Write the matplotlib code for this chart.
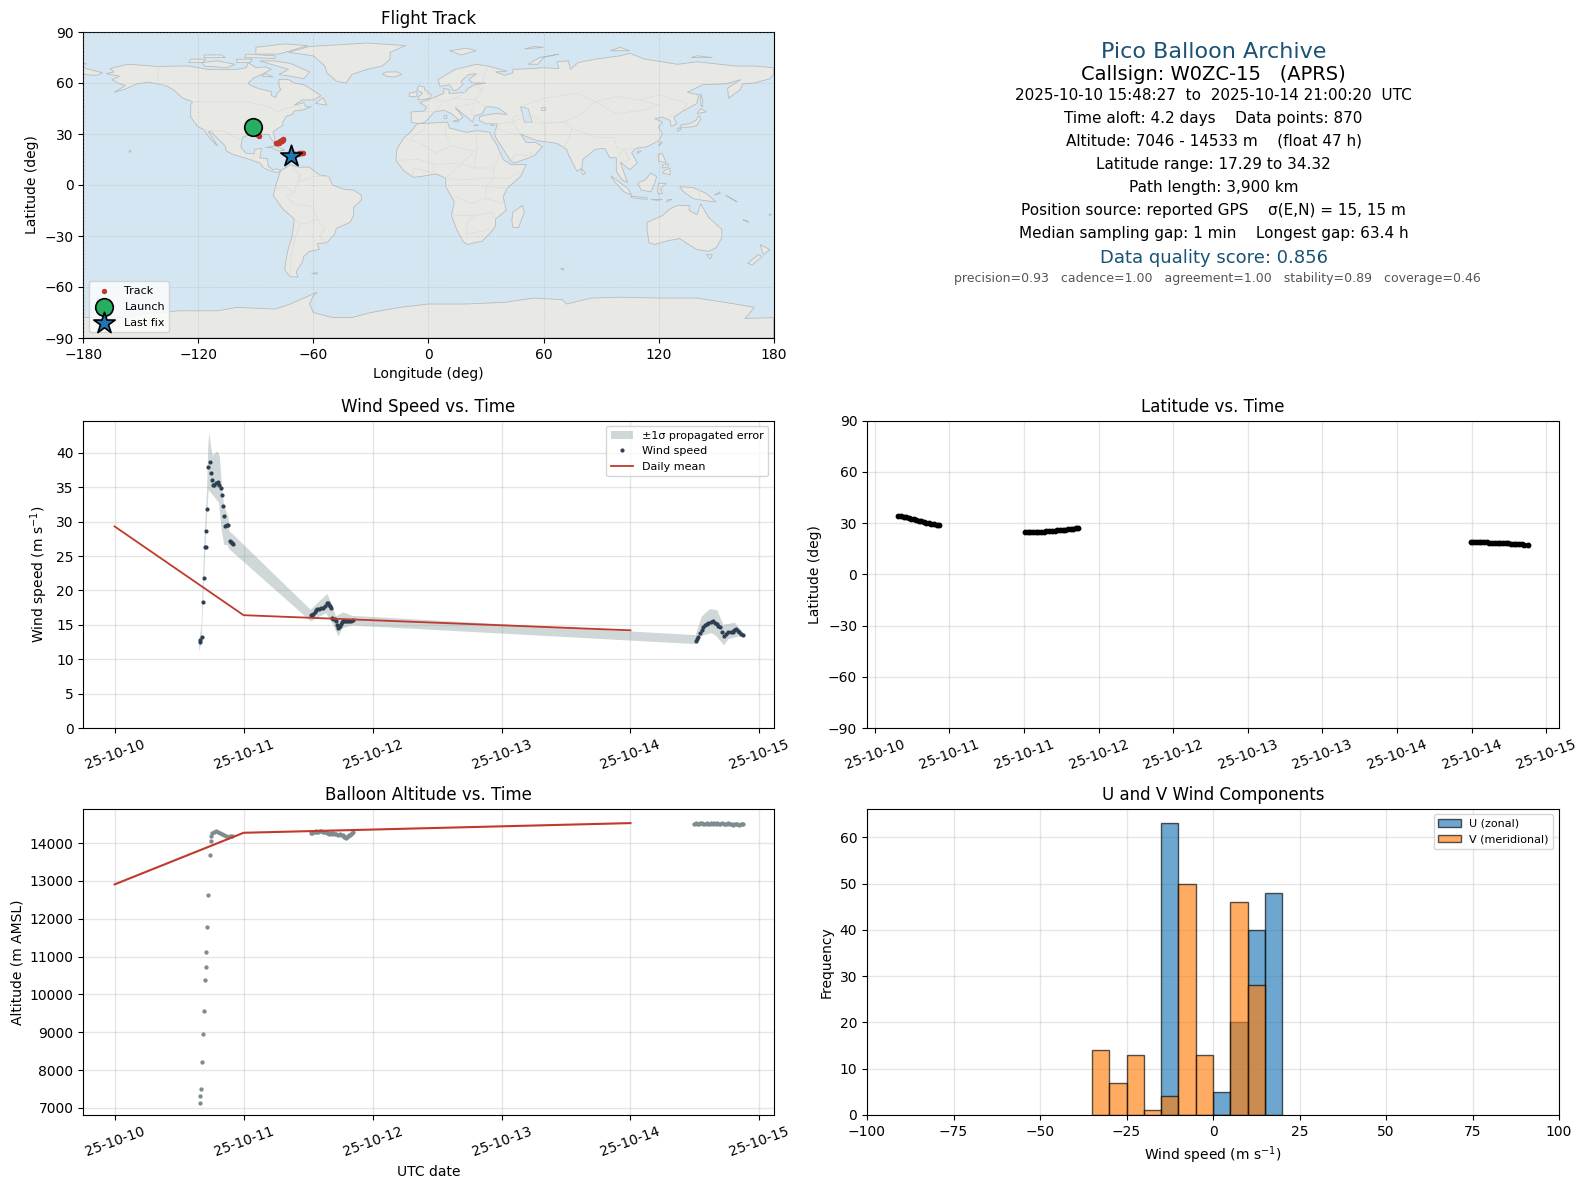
import datetime as dt

import numpy as np
import matplotlib
matplotlib.use("Agg")
import matplotlib.pyplot as plt
import matplotlib.dates as mdates
from matplotlib.patches import Polygon

# days since 2025-10-10 00:00 UTC
wind_t = [0.659, 0.664, 0.674, 0.682, 0.690, 0.700, 0.705, 0.708, 0.713, 0.721, 0.736, 0.744, 0.752, 0.762,
          0.770, 0.786, 0.800, 0.809, 0.822, 0.829, 0.837, 0.845, 0.858, 0.868, 0.881, 0.897, 0.902, 0.907, 0.915,
          1.519, 1.530, 1.540, 1.550, 1.560, 1.573, 1.587, 1.603, 1.618, 1.630, 1.643, 1.652, 1.659, 1.667, 1.674,
          1.685, 1.695, 1.705, 1.716, 1.722, 1.729, 1.742, 1.750, 1.757, 1.765, 1.773, 1.783, 1.793, 1.806, 1.819,
          1.832, 1.845,
          4.506, 4.516, 4.527, 4.540, 4.553, 4.566, 4.579, 4.592, 4.605, 4.621, 4.638, 4.653, 4.669, 4.682, 4.695,
          4.710, 4.726, 4.743, 4.760, 4.776, 4.793, 4.806, 4.819, 4.832, 4.845, 4.860, 4.876]
wind_v = [12.5, 12.8, 13.3, 18.3, 21.8, 26.3, 26.3, 28.7, 31.9, 38.0, 38.7, 37.1, 36.1, 35.3,
          35.3, 35.6, 35.7, 35.3, 34.9, 33.9, 32.3, 30.8, 29.3, 29.5, 29.5, 27.2, 27.0, 26.9, 26.7,
          16.4, 16.4, 16.5, 16.9, 17.2, 17.3, 17.3, 17.4, 17.5, 17.8, 18.1, 18.1, 17.9, 17.7, 17.4,
          16.0, 15.9, 15.9, 15.5, 15.0, 14.5, 14.7, 14.9, 15.1, 15.4, 15.6, 15.5, 15.5, 15.5, 15.5,
          15.6, 15.7,
          12.7, 13.0, 13.3, 13.8, 14.3, 14.7, 15.0, 15.1, 15.2, 15.4, 15.5, 15.3, 15.1, 14.9, 14.7,
          14.0, 13.4, 13.6, 13.9, 13.9, 14.0, 14.2, 14.4, 14.1, 13.9, 13.7, 13.5]

band_up_t = [0.656, 0.660, 0.674, 0.682, 0.690, 0.700, 0.716, 0.726, 0.734, 0.747, 0.760, 0.798, 0.816, 0.832, 0.850,
             0.883, 0.889, 0.915,
             1.520, 1.570, 1.651, 1.690, 1.716, 1.773, 1.845, 4.506, 4.553, 4.618, 4.674, 4.721, 4.810, 4.876]
band_up = [13.0, 13.2, 14.8, 20.0, 24.0, 28.6, 34.4, 40.9, 43.0, 41.0, 39.6, 40.2, 39.5, 35.1, 32.2,
           30.7, 28.6, 28.2,
           17.2, 18.1, 19.5, 17.7, 16.2, 16.8, 16.3, 13.5, 16.2, 17.3, 17.1, 15.0, 15.3, 13.8]
band_lo_t = [0.656, 0.674, 0.682, 0.690, 0.700, 0.716, 0.729, 0.760, 0.810, 0.830, 0.850, 0.876, 0.889,
             1.522, 1.640, 1.690, 1.736, 1.767, 1.845, 4.500, 4.540, 4.630, 4.669, 4.726, 4.760, 4.837, 4.876]
band_lo = [11.1, 12.5, 16.5, 20.0, 24.4, 30.7, 34.6, 33.9, 32.7, 28.8, 26.6, 26.6, 26.0,
           15.5, 16.7, 15.2, 13.3, 14.5, 14.9, 12.2, 13.3, 13.8, 13.3, 12.0, 12.9, 13.3, 13.2]

mean_t = [0, 1, 4]
mean_wind = [29.3, 16.4, 14.2]
mean_alt = [12910, 14274, 14530]

alt_t = [0.659, 0.659, 0.667, 0.674, 0.682, 0.690, 0.698, 0.705, 0.705, 0.713, 0.721, 0.736, 0.744, 0.744, 0.752,
         0.767, 0.786, 0.800, 0.816, 0.832, 0.847, 0.863, 0.878, 0.894, 0.910,
         1.519, 1.530, 1.540, 1.550, 1.560, 1.570, 1.580, 1.590, 1.600, 1.612, 1.624, 1.636, 1.648, 1.660, 1.672,
         1.684, 1.696, 1.708, 1.720, 1.732, 1.744, 1.756, 1.768, 1.775, 1.783, 1.791, 1.799, 1.807, 1.815, 1.823,
         1.831, 1.839, 1.845,
         4.494, 4.506, 4.518, 4.530, 4.542, 4.554, 4.566, 4.578, 4.590, 4.602, 4.614, 4.626, 4.638, 4.650, 4.662,
         4.674, 4.686, 4.698, 4.710, 4.722, 4.734, 4.746, 4.758, 4.770, 4.782, 4.794, 4.806, 4.818, 4.830, 4.842,
         4.854, 4.866, 4.876]
alt_v = [7130, 7316, 7500, 8218, 8960, 9570, 10393, 10737, 11135, 11772, 12620, 13682, 14053, 14186, 14265,
         14292, 14310, 14292, 14265, 14239, 14212, 14186, 14168, 14186, 14195,
         14256, 14270, 14285, 14300, 14310, 14295, 14285, 14320, 14327, 14305, 14295, 14285, 14270, 14255, 14265,
         14250, 14260, 14240, 14245, 14225, 14235, 14225, 14210, 14170, 14150, 14133, 14160, 14190, 14220, 14210,
         14240, 14260, 14290,
         14510, 14525, 14515, 14505, 14520, 14530, 14510, 14500, 14525, 14515, 14505, 14530, 14510, 14520, 14500,
         14525, 14510, 14505, 14520, 14495, 14515, 14505, 14520, 14500, 14510, 14490, 14515, 14500, 14510, 14490,
         14505, 14495, 14500]

lat_t = [0.658, 0.675, 0.692, 0.709, 0.726, 0.743, 0.760, 0.777, 0.794, 0.811, 0.828, 0.845, 0.862, 0.879, 0.896,
         0.913, 0.930,
         1.506, 1.524, 1.542, 1.560, 1.578, 1.596, 1.614, 1.632, 1.650, 1.668, 1.686, 1.704, 1.722, 1.740, 1.758,
         1.776, 1.794, 1.812, 1.830, 1.848, 1.859,
         4.494, 4.512, 4.530, 4.548, 4.566, 4.584, 4.602, 4.620, 4.638, 4.656, 4.674, 4.692, 4.710, 4.728, 4.746,
         4.764, 4.782, 4.800, 4.818, 4.836, 4.854, 4.875]
lat_v = [34.3, 34.2, 33.8, 33.4, 33.0, 32.6, 32.2, 31.8, 31.4, 31.0, 30.6, 30.2, 29.9, 29.6, 29.3,
         29.1, 28.8,
         24.5, 24.5, 24.6, 24.7, 24.7, 24.8, 24.9, 25.0, 25.2, 25.3, 25.4, 25.6, 25.7, 25.8, 26.0,
         26.1, 26.3, 26.5, 26.6, 26.8, 27.0,
         19.0, 19.0, 18.9, 18.8, 18.7, 18.7, 18.6, 18.5, 18.5, 18.4, 18.4, 18.3, 18.2, 18.2, 18.1,
         18.0, 17.9, 17.8, 17.7, 17.6, 17.4, 17.3]
track_lon = [-91.6, -91.4, -91.2, -91.0, -90.8, -90.6, -90.4, -90.2, -90.0, -89.8, -89.6, -89.4, -89.2, -89.0, -88.8,
             -88.5, -88.3,
             -79.6, -79.4, -79.2, -79.0, -78.8, -78.6, -78.4, -78.2, -78.0, -77.8, -77.6, -77.4, -77.2, -77.0, -76.8,
             -76.6, -76.4, -76.2, -76.0, -75.8, -75.6,
             -65.5, -65.8, -66.2, -66.5, -66.9, -67.2, -67.6, -67.9, -68.2, -68.6, -68.9, -69.2, -69.5, -69.8, -70.1,
             -70.4, -70.7, -71.0, -71.2, -71.4, -71.5, -71.6]

u_edges = [-15, -10, -5, 0, 5, 10, 15, 20]
u_counts = [63, 0, 0, 5, 20, 40, 48]
v_edges = [-35, -30, -25, -20, -15, -10, -5, 0, 5, 10, 15]
v_counts = [14, 7, 13, 1, 4, 50, 13, 0, 46, 28]

info_lines = ["2025-10-10 15:48:27  to  2025-10-14 21:00:20  UTC",
              "Time aloft: 4.2 days    Data points: 870",
              "Altitude: 7046 - 14533 m    (float 47 h)",
              "Latitude range: 17.29 to 34.32",
              "Path length: 3,900 km",
              "Position source: reported GPS    \u03c3(E,N) = 15, 15 m",
              "Median sampling gap: 1 min    Longest gap: 63.4 h"]

# rough world outline, lon/lat
north_america = [(-168, 65.5), (-164, 66.5), (-166, 68.5), (-157, 71), (-150, 70.5), (-141, 69.7), (-130, 70), (-125, 70),
                 (-115, 68), (-108, 68), (-100, 68), (-95, 69), (-94, 72), (-90, 69), (-85, 69.5), (-82, 68), (-87, 65),
                 (-91, 63), (-94, 60), (-93, 58.7), (-88, 56.5), (-82, 55), (-82, 52.5), (-79.5, 51.5), (-79, 54), (-77, 56),
                 (-78, 58.5), (-78, 62), (-73, 62), (-70, 60), (-65, 59), (-62, 57), (-56, 52.5), (-60, 50), (-66, 50),
                 (-70, 47), (-65, 48.5), (-64, 46), (-61, 46), (-66, 44), (-70, 43.5), (-71, 41.5), (-74, 40.5), (-76, 37),
                 (-76, 35), (-81, 31.5), (-80, 27), (-80.5, 25), (-82, 27), (-83, 29.5), (-85, 29.7), (-89, 30), (-90, 29),
                 (-94, 29.5), (-97, 28), (-97.5, 25), (-97.8, 22), (-95, 18.5), (-91, 18.5), (-90.5, 21), (-87, 21.5),
                 (-88, 16), (-84, 15.5), (-83.5, 11), (-81, 9), (-79, 9.5), (-77, 8.5), (-78, 7.5), (-80, 7.5), (-83, 8.5),
                 (-86, 10), (-88, 13), (-92, 14.5), (-96, 16), (-102, 18), (-105.5, 20), (-106, 23), (-110, 27.5), (-113, 31),
                 (-114.8, 31.5), (-112, 26.5), (-110, 23), (-112, 25), (-115, 29), (-117, 32.5), (-120.5, 34.5), (-124, 40),
                 (-124, 47), (-123, 49), (-128, 51), (-133, 56), (-137, 58.5), (-146, 60.5), (-152, 59.5), (-158, 56.5),
                 (-164, 54.5), (-158, 58.5), (-162, 60), (-165, 62), (-161, 64)]
south_america = [(-77, 8.5), (-72, 12), (-68, 10.5), (-62, 10.5), (-57, 6), (-52, 5), (-50, 0), (-44, -2.5), (-39, -3),
                 (-35, -6), (-35, -9), (-39, -13), (-39, -18), (-41, -22), (-48, -25.5), (-49, -29), (-53, -34), (-58, -34.5),
                 (-57, -38), (-62, -39), (-65, -42), (-66, -46), (-69, -51), (-68, -54), (-72, -54), (-75, -50), (-74, -42),
                 (-73, -37), (-71, -30), (-70, -20), (-76, -14), (-81, -6), (-80, -2), (-79, 2), (-77.5, 7)]
africa = [(-6, 36), (10, 37), (11, 33.5), (20, 31), (25, 32), (32, 31), (33, 28), (35.5, 24), (37, 20), (39, 15), (43, 12),
          (51, 12), (48, 5), (41, -2), (39, -7), (40.5, -15), (35, -20), (35, -24), (32.5, -28), (28, -33), (20, -35),
          (18, -33), (15, -27), (12, -18), (13.5, -10), (9, -1), (9, 4), (4, 6.5), (-4, 5), (-8, 4.5), (-13, 8.5), (-17, 14.5),
          (-16.5, 21), (-13, 27.5), (-9.5, 31)]
eurasia = [(-9, 37), (-9, 43), (-2, 43.5), (-1, 46), (-4.5, 48.5), (2, 51), (8, 54), (8, 57), (11, 56), (10.5, 54), (14, 54),
           (19, 54.5), (21, 57), (24, 59), (30, 60), (23, 60), (21, 62), (25, 65.5), (21, 65), (17, 61), (18, 59), (15, 56),
           (13, 55.5), (11, 59), (6, 58), (5, 62), (14, 68), (25, 71), (31, 70), (41, 67), (35, 66.5), (40, 64.5), (44, 66),
           (44, 68), (54, 68.5), (60, 69), (68, 68.5), (67, 72.5), (73, 73), (74, 68), (78, 72), (87, 74), (100, 76),
           (105, 77.5), (113, 74), (130, 71), (140, 72.5), (160, 70), (170, 70), (180, 69), (180, 65), (178, 62.5), (170, 60),
           (164, 59.5), (162.5, 56), (156.5, 51), (156, 57), (160, 60), (163, 62), (155, 59.5), (143, 59), (135, 54.5),
           (141, 53), (140, 48), (132, 43), (128, 40), (129.5, 36), (126.5, 34.5), (126, 38), (122, 40), (118, 39), (122, 37),
           (120, 34), (122, 30), (120, 26), (114, 22.5), (108, 21.5), (106, 19), (109, 13), (105, 9), (100, 13.5), (103, 4),
           (104, 1.5), (101, 3), (98, 8), (98, 16), (94.5, 16), (92, 21.5), (87, 21), (80.5, 15), (80, 10), (77.5, 8), (73, 18),
           (72, 21), (67, 24.5), (61, 25.5), (57, 26), (52, 28), (48, 30), (51, 25), (56, 25), (59.5, 22.5), (55, 17), (45, 13),
           (43, 14), (39, 21), (35, 28), (34.5, 31), (36, 36), (30, 36), (26.5, 38), (26.5, 40), (29, 41), (35, 42), (41, 41.5),
           (37, 45), (33, 46), (30, 46), (28, 42), (24, 40.5), (23, 37), (20, 40), (14, 45.5), (18, 40), (16, 38), (12, 42),
           (8, 44), (3, 43), (0, 39), (-2, 37), (-5, 36)]
australia = [(114, -22), (122, -18), (126, -14), (130, -12), (136, -12), (136, -15), (140, -17.5), (142, -11), (146, -19),
             (153, -26), (153, -31), (150, -37), (146, -39), (140, -38), (135, -34.5), (131, -31.5), (124, -33), (118, -35),
             (115, -34), (114, -26)]
antarctica = [(-180, -90), (-180, -78), (-160, -78), (-150, -76), (-130, -74), (-110, -74), (-100, -72), (-80, -73), (-72, -70),
              (-62, -65), (-58, -63), (-60, -65), (-62, -70), (-60, -75), (-50, -78), (-40, -78), (-30, -75), (-15, -72),
              (0, -70), (20, -70), (40, -69), (55, -66.5), (70, -67.5), (72, -70), (85, -66.5), (100, -66), (120, -66.5),
              (140, -66.5), (160, -70), (170, -72), (167, -76), (165, -78.5), (180, -78), (180, -90)]
greenland = [(-73, 78), (-62, 81.5), (-32, 83.5), (-12, 82), (-20, 78), (-20, 74), (-24, 70), (-32, 68), (-40, 65), (-43, 60),
             (-48, 61), (-53, 66), (-54, 70), (-60, 76)]
islands = [
    [(-180, 69), (-175, 67.5), (-170, 66), (-173, 64.5), (-180, 65)],
    [(-180, 71), (-178, 71.3), (-180, 71.5)],
    [(-80, 73), (-72, 71.5), (-62, 66.5), (-65, 62.5), (-72, 64), (-78, 65), (-73, 68), (-88, 73)],
    [(-117, 70), (-105, 69), (-101, 71), (-110, 73), (-118, 72)],
    [(-90, 77), (-78, 77), (-63, 82), (-75, 83), (-90, 81)],
    [(-125, 72), (-118, 72), (-116, 74), (-124, 74)],
    [(-96, 75), (-80, 74.5), (-80, 76), (-95, 77)],
    [(-117, 75), (-106, 75), (-108, 76.5), (-117, 76.5)],
    [(-100, 72), (-93, 72), (-92, 74), (-100, 74)],
    [(-59, 48), (-53, 47), (-55, 51.5)],
    [(-87, 64), (-81, 63.5), (-85, 65.5)],
    [(-24, 65.5), (-22, 64), (-18, 63.5), (-14, 65), (-16, 66.5), (-22, 66.5)],
    [(-5.5, 50), (1, 51), (1.5, 53), (-2, 56), (-2, 57.5), (-5, 58.5), (-6, 56), (-3, 54), (-5, 52)],
    [(-10, 52), (-6, 52), (-6, 55), (-10, 54)],
    [(-85, 22), (-80, 23), (-75, 20.5), (-78, 20), (-82, 22)],
    [(-74, 18.5), (-68.5, 18.5), (-70, 20), (-73, 20)],
    [(44, -16), (49, -12), (50, -16), (47, -25), (44, -25), (43.5, -21)],
    [(142, 54), (143, 50), (143, 46), (142, 47), (142, 52)],
    [(131, 34), (136, 34), (140, 35), (142, 39), (141, 41), (139.5, 38), (136, 36), (132, 35.5)],
    [(140, 42), (145, 43), (142, 45)],
    [(130, 31.5), (132, 33), (130, 33.5)],
    [(120, 23), (122, 25), (121, 25.5)],
    [(109, 18.5), (111, 20), (109, 20)],
    [(120, 14), (124, 13), (122, 18.5), (120, 18)],
    [(122, 7), (126, 6), (126, 10), (123, 8.5)],
    [(122, 10), (125, 10.5), (125, 12.5), (122, 11.5)],
    [(109, 1), (111, -3), (116, -4), (118, 1), (119, 5), (116, 7), (113, 3)],
    [(95, 5.5), (104, -2), (106, -6), (102, -4), (97, 2)],
    [(105.5, -6.5), (114, -7.5), (114, -8.5), (106, -7.5)],
    [(120, -5.5), (122, -5), (121, -2), (124, 1), (120, 1), (119.5, -3)],
    [(131, -1), (138, -1.5), (145, -5), (150, -10), (143, -9), (138, -8), (133, -4)],
    [(149, -6), (152, -5), (152, -4)],
    [(124, -10), (127, -8.5), (125, -8.5)],
    [(116, -8.5), (122, -8.5), (119, -9)],
    [(155, -6), (161, -10), (158, -8)],
    [(80, 9.5), (82, 7), (80.5, 6), (79.7, 8)],
    [(145, -41), (148, -41), (147, -43.5)],
    [(173, -35), (178, -38), (175, -41), (174, -39)],
    [(172, -41), (174, -42), (169, -47), (166.5, -46)],
    [(68.5, -49), (70, -49), (70, -50)],
    [(-61, -52), (-58, -51.5), (-58, -52.5)],
    [(11, 79), (20, 80.5), (25, 79), (17, 76.5)],
    [(52, 71), (57, 71), (60, 75), (68, 77), (58, 75)],
    [(95, 79), (105, 79), (100, 81)],
    [(137, 75), (148, 75), (140, 76)],
    [(50, 80), (60, 81), (55, 81.5)],
    [(-156, 19), (-155, 20), (-156, 20.5)],
    [(12.5, 37.5), (15.5, 37), (15.5, 38.2)],
    [(8.2, 39), (9.7, 39.2), (9.5, 41), (8.2, 41)],
    [(23.5, 35), (26, 35), (25, 35.5)],
    [(32.5, 35), (34.5, 35), (33, 35.5)],
    [(166, -21), (167, -22), (164, -20.5)],
    [(178, -18), (179, -17), (177.5, -17.5)],
]
inland_water = [
    [(50, 37), (54, 37), (53, 41), (52, 45), (48, 46), (49, 42)],
    [(58.5, 44), (61, 44), (61, 46), (58.5, 46)],
]
borders = [
    [(-141, 69.7), (-141, 60), (-137, 58.5)],
    [(-123, 49), (-95, 49), (-83, 46), (-79, 43), (-75, 45), (-67, 47), (-67, 45)],
    [(-117, 32.5), (-106, 31.5), (-97.5, 26)],
    [(-92, 14.5), (-91, 18), (-89, 18)],
    [(-72, 12), (-67, 6), (-70, -4), (-74, -7), (-70, -11), (-60, -13), (-58, -20), (-54, -26), (-57, -30), (-53, -34)],
    [(-52, 5), (-60, 5), (-67, 2), (-67, 6)],
    [(-80, -2), (-75, -1), (-70, -4)],
    [(-70, -20), (-67, -23), (-70, -33), (-72, -45), (-72, -52)],
    [(-67, -23), (-62, -22), (-58, -20)],
    [(-9, 28), (-2, 33), (-2, 35)],
    [(9, 37), (9, 30), (12, 23), (4, 19), (-5, 25), (-13, 27.5)],
    [(25, 32), (25, 20), (24, 10), (34, 10), (36, 14), (37, 20)],
    [(12, 23), (24, 20), (15, 10), (9, 4)],
    [(-17, 14.5), (-5, 15), (4, 12), (15, 13), (24, 10)],
    [(-8, 4.5), (-8, 10), (3, 7), (3, 12)],
    [(9, 4), (16, 3), (30, 4), (42, 4), (48, 8)],
    [(34, 10), (34, 4), (30, -1), (30, -8), (22, -11), (13.5, -6)],
    [(30, -1), (41, -2)],
    [(30, -8), (40, -11)],
    [(12, -18), (24, -18), (33, -16), (35, -20)],
    [(20, -29), (20, -22), (24, -18)],
    [(20, -29), (32, -26)],
    [(-2, 43.5), (3, 43), (8, 49), (2, 51)],
    [(8, 49), (14, 51), (19, 54.5)],
    [(14, 51), (24, 50), (30, 46)],
    [(14, 46), (24, 48), (22, 42), (24, 40.5)],
    [(24, 50), (28, 56), (28, 60), (31, 70)],
    [(24, 59), (28, 56)],
    [(36, 36), (44, 37), (48, 30)],
    [(44, 37), (44, 40), (47, 41)],
    [(44, 37), (48, 39), (54, 37), (61, 36), (61, 25.5)],
    [(61, 36), (71, 37), (75, 33), (72, 25), (70, 21)],
    [(48, 46), (60, 51), (77, 54), (87, 49), (98, 52), (110, 50), (120, 53), (135, 48), (132, 43)],
    [(53, 41), (60, 37), (71, 37), (80, 42), (87, 49)],
    [(87, 49), (98, 42), (112, 44), (120, 47), (110, 50)],
    [(75, 33), (88, 28), (97, 28), (98, 22), (102, 21), (108, 21.5)],
    [(98, 16), (102, 21), (105, 15), (100, 13.5)],
    [(129, 43), (125, 40)],
    [(141, -9), (141, -2.5)],
    [(34, 31), (36, 33), (44, 30), (48, 30)],
    [(52, 20), (55, 17), (45, 18), (43, 14)],
]

OCEAN = "#d4e6f1"
LAND = "#e8e8e4"
COAST = "#b8bcbe"
BORDER = "#dcdcd9"
TITLE_BLUE = "#1a5276"
RED = "#c0392b"
DARK = "#2c3e50"
GREY = "#7f8c8d"
GRID = "#cccccc"

W, H = 1587, 1189
BASE = mdates.date2num(dt.datetime(2025, 10, 10))


def dates(days):
    return BASE + np.array(days, dtype=float)


def make_axes(left, top, right, bottom):
    return fig.add_axes([left / W, 1 - bottom / H, (right - left) / W, (bottom - top) / H])


def date_axis(ax, locator):
    ax.xaxis.set_major_locator(locator)
    ax.xaxis.set_major_formatter(mdates.DateFormatter("%y-%m-%d"))
    ax.tick_params(axis="x", labelrotation=20)
    ax.grid(True, color=GRID, alpha=0.5, lw=1)
    ax.set_axisbelow(True)


fig = plt.figure(figsize=(W / 100, H / 100), dpi=100)

# map
ax_map = make_axes(83.3, 32, 773.6, 338)
ax_map.set_facecolor(OCEAN)
for outline in [north_america, south_america, africa, eurasia, australia, antarctica, greenland] + islands:
    ax_map.add_patch(Polygon(outline, closed=True, fc=LAND, ec=COAST, lw=0.6, zorder=1))
for outline in inland_water:
    ax_map.add_patch(Polygon(outline, closed=True, fc=OCEAN, ec=COAST, lw=0.5, zorder=1.1))
for line in borders:
    xs, ys = zip(*line)
    ax_map.plot(xs, ys, color=BORDER, lw=0.5, zorder=1.05)
ax_map.scatter(track_lon, lat_v, s=8, color=RED, zorder=3, label="Track")
ax_map.scatter(track_lon[0], lat_v[0], s=160, color="#27ae60", edgecolor="black", lw=1.2, zorder=4, label="Launch")
ax_map.scatter(track_lon[-1], lat_v[-1], s=260, marker="*", color="#1f77b4", edgecolor="black", lw=1.2, zorder=5,
               label="Last fix")
ax_map.set_xlim(-180, 180)
ax_map.set_ylim(-90, 90)
ax_map.set_xticks(np.arange(-180, 181, 60))
ax_map.set_yticks(np.arange(-90, 91, 30))
ax_map.grid(True, color="#999999", alpha=0.3, lw=0.5, ls="--", zorder=2)
ax_map.set_axisbelow(False)
ax_map.set_xlabel("Longitude (deg)")
ax_map.set_ylabel("Latitude (deg)")
ax_map.set_title("Flight Track", fontsize=12)
ax_map.legend(loc="lower left", fontsize=8, labelspacing=0.55)

# info text
center = 1213.6
text_rows = [(52, "Pico Balloon Archive", 16, TITLE_BLUE, center),
             (74.5, "Callsign: W0ZC-15   (APRS)", 14, "black", center)]
for i, line in enumerate(info_lines):
    text_rows.append((95 + i * 23.1, line, 11, "black", center))
text_rows.append((258, "Data quality score: 0.856", 13, TITLE_BLUE, center))
text_rows.append((278.5, "precision=0.93   cadence=1.00   agreement=1.00   stability=0.89   coverage=0.46", 9, "#555555",
                  center + 4))
for y, txt, size, col, x in text_rows:
    fig.text(x / W, 1 - y / H, txt, fontsize=size, color=col, ha="center", va="center")

# wind speed
xlim_wide = (BASE - 0.243, BASE + 5.11)
ax_wind = make_axes(83.3, 420.5, 773.6, 728)
ax_wind.fill(np.r_[dates(band_up_t), dates(band_lo_t)[::-1]], np.r_[band_up, band_lo[::-1]],
             color="#7f9496", alpha=0.37, lw=0, label="\u00b11\u03c3 propagated error")
ax_wind.plot(dates(wind_t), wind_v, ".", color=DARK, ms=4, label="Wind speed")
ax_wind.plot(dates(mean_t), mean_wind, color=RED, lw=1.3, label="Daily mean")
ax_wind.set_xlim(xlim_wide)
ax_wind.set_ylim(0, 44.7)
ax_wind.set_yticks(np.arange(0, 45, 5))
ax_wind.set_ylabel("Wind speed (m s$^{-1}$)")
ax_wind.set_title("Wind Speed vs. Time", fontsize=12)
ax_wind.legend(loc="upper right", fontsize=8)
date_axis(ax_wind, mdates.DayLocator())

# latitude
ax_lat = make_axes(867, 420.5, 1559, 728)
ax_lat.plot(dates(lat_t), lat_v, "o", color="black", ms=3.2)
ax_lat.set_xlim(BASE + 0.447, BASE + 5.086)
ax_lat.set_ylim(-90, 90)
ax_lat.set_yticks(np.arange(-90, 91, 30))
ax_lat.set_ylabel("Latitude (deg)")
ax_lat.set_title("Latitude vs. Time", fontsize=12)
date_axis(ax_lat, mdates.HourLocator(byhour=[0, 12]))

# altitude
ax_alt = make_axes(83.3, 808.8, 773.6, 1115)
ax_alt.plot(dates(alt_t), alt_v, ".", color=GREY, ms=4.2)
ax_alt.plot(dates(mean_t), mean_alt, color=RED, lw=1.5)
ax_alt.set_xlim(xlim_wide)
ax_alt.set_ylim(6813, 14908)
ax_alt.set_yticks(np.arange(7000, 14001, 1000))
ax_alt.set_xlabel("UTC date")
ax_alt.set_ylabel("Altitude (m AMSL)")
ax_alt.set_title("Balloon Altitude vs. Time", fontsize=12)
date_axis(ax_alt, mdates.DayLocator())

# histogram
ax_hist = make_axes(867, 808.8, 1559, 1115)
ax_hist.bar(u_edges[:-1], u_counts, width=5, align="edge", color="#1f77b4", alpha=0.65, edgecolor="black", label="U (zonal)")
ax_hist.bar(v_edges[:-1], v_counts, width=5, align="edge", color="#ff7f0e", alpha=0.65, edgecolor="black", label="V (meridional)")
ax_hist.set_xlim(-100, 100)
ax_hist.set_ylim(0, 66.15)
ax_hist.set_xlabel("Wind speed (m s$^{-1}$)")
ax_hist.set_ylabel("Frequency")
ax_hist.set_title("U and V Wind Components", fontsize=12)
ax_hist.legend(loc="upper right", fontsize=8)
ax_hist.grid(True, color=GRID, alpha=0.5, lw=1)
ax_hist.set_axisbelow(True)

fig.savefig("out.png", dpi=100)
